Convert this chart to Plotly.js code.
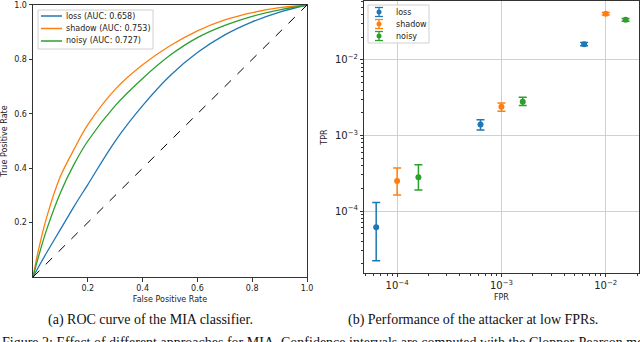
<!DOCTYPE html>
<html>
<head>
<meta charset="utf-8">
<script src="https://cdn.plot.ly/plotly-3.0.1.min.js"></script>
<style>
  html, body { margin: 0; padding: 0; background: #fff; }
  #chart { width: 640px; height: 342px; }
</style>
</head>
<body>
<div id="chart"></div>
<script>
// ROC curves
const fprRoc = [0, 0.02, 0.05, 0.1, 0.15, 0.2, 0.3, 0.4, 0.5, 0.6, 0.7, 0.8, 0.9, 1];
const tprLossRoc = [0, 0.037, 0.09, 0.175, 0.26, 0.34, 0.5, 0.63, 0.74, 0.825, 0.89, 0.938, 0.974, 1];
const tprShadowRoc = [0, 0.1, 0.22, 0.37, 0.47, 0.56, 0.69, 0.78, 0.85, 0.905, 0.945, 0.972, 0.99, 1];
const tprNoisyRoc = [0, 0.075, 0.175, 0.31, 0.415, 0.5, 0.63, 0.73, 0.815, 0.88, 0.925, 0.958, 0.982, 1];
const chanceLine = [0, 1];
const rocLabels = ['loss (AUC: 0.658)', 'shadow (AUC: 0.753)', 'noisy (AUC: 0.727)'];

// low-FPR operating points with CI bounds (right panel)
const fprLoss = [6.3e-5, 6.3e-4, 6.2e-3];
const tprLoss = [6.1e-5, 1.4e-3, 1.62e-2];
const tprLossHi = [1.3e-4, 1.62e-3, 1.7e-2];
const tprLossLo = [2.2e-5, 1.18e-3, 1.54e-2];

const fprShadow = [1e-4, 1e-3, 1e-2];
const tprShadow = [2.5e-4, 2.4e-3, 4.1e-2];
const tprShadowHi = [3.7e-4, 2.7e-3, 4.25e-2];
const tprShadowLo = [1.63e-4, 2.1e-3, 3.95e-2];

const fprNoisy = [1.6e-4, 1.6e-3, 1.55e-2];
const tprNoisy = [2.8e-4, 2.8e-3, 3.4e-2];
const tprNoisyHi = [4.1e-4, 3.2e-3, 3.55e-2];
const tprNoisyLo = [1.9e-4, 2.5e-3, 3.25e-2];
const attackLabels = ['loss', 'shadow', 'noisy'];

const colors = ['#1f77b4', '#ff7f0e', '#2ca02c'];
const font = {family: 'DejaVu Sans', size: 8, color: '#222'};
const serif = {family: 'Liberation Serif', size: 14, color: '#111'};

function errBar(mid, hi, lo, color) {
    return {
        type: 'data', symmetric: false,
        array: hi.map((h, i) => h - mid[i]),
        arrayminus: lo.map((l, i) => mid[i] - l),
        color: color, thickness: 1.5, width: 4
    };
}

const rocY = [tprLossRoc, tprShadowRoc, tprNoisyRoc];
const ptX = [fprLoss, fprShadow, fprNoisy];
const ptY = [tprLoss, tprShadow, tprNoisy];
const ptHi = [tprLossHi, tprShadowHi, tprNoisyHi];
const ptLo = [tprLossLo, tprShadowLo, tprNoisyLo];

const traces = [];
rocY.forEach((ys, i) => traces.push({
    x: fprRoc, y: ys, mode: 'lines', name: rocLabels[i], showlegend: false,
    line: {color: colors[i], width: 1.3, shape: 'spline', smoothing: 1}
}));
traces.push({x: chanceLine, y: chanceLine, mode: 'lines', showlegend: false,
             line: {color: '#000', width: 1, dash: 'dash'}});
ptX.forEach((xs, i) => traces.push({
    x: xs, y: ptY[i], xaxis: 'x2', yaxis: 'y2', mode: 'markers', name: attackLabels[i], showlegend: false,
    marker: {color: colors[i], size: 6}, error_y: errBar(ptY[i], ptHi[i], ptLo[i], colors[i])
}));

// pixel -> paper helpers for the hand-placed legends
const px = v => v / 640;
const py = v => 1 - v / 342;

const shapes = [];
const annotations = [];

// left legend
shapes.push({type: 'rect', xref: 'paper', yref: 'paper', x0: px(38), x1: px(153), y0: py(10), y1: py(49),
             line: {color: '#d0d0d0', width: 1}, fillcolor: 'rgba(255,255,255,0.8)'});
rocLabels.forEach((lab, i) => {
    const yy = 16 + i * 12.5;
    shapes.push({type: 'line', xref: 'paper', yref: 'paper', x0: px(41), x1: px(62), y0: py(yy), y1: py(yy),
                 line: {color: colors[i], width: 1.5}});
    annotations.push({text: lab, xref: 'paper', yref: 'paper', x: px(64), y: py(yy), xanchor: 'left',
                      yanchor: 'middle', showarrow: false, font: font});
});

// right legend
shapes.push({type: 'rect', xref: 'paper', yref: 'paper', x0: px(368), x1: px(429), y0: py(5), y1: py(43),
             line: {color: '#d0d0d0', width: 1}, fillcolor: 'rgba(255,255,255,0.8)'});
attackLabels.forEach((lab, i) => {
    const yy = 12 + i * 12;
    shapes.push({type: 'line', xref: 'paper', yref: 'paper', x0: px(379), x1: px(379), y0: py(yy - 4.5), y1: py(yy + 4.5),
                 line: {color: colors[i], width: 1.3}});
    shapes.push({type: 'line', xref: 'paper', yref: 'paper', x0: px(375), x1: px(383), y0: py(yy - 4.5), y1: py(yy - 4.5),
                 line: {color: colors[i], width: 1.3}});
    shapes.push({type: 'line', xref: 'paper', yref: 'paper', x0: px(375), x1: px(383), y0: py(yy + 4.5), y1: py(yy + 4.5),
                 line: {color: colors[i], width: 1.3}});
    shapes.push({type: 'circle', xref: 'paper', yref: 'paper', x0: px(376.5), x1: px(381.5), y0: py(yy - 2.5), y1: py(yy + 2.5),
                 line: {color: colors[i], width: 0}, fillcolor: colors[i]});
    annotations.push({text: lab, xref: 'paper', yref: 'paper', x: px(394), y: py(yy), xanchor: 'left',
                      yanchor: 'middle', showarrow: false, font: font});
});

// captions
annotations.push({text: '(a) ROC curve of the MIA classifier.', xref: 'paper', yref: 'paper',
                  x: px(150), y: py(320), xanchor: 'center', yanchor: 'middle', showarrow: false, font: serif});
annotations.push({text: '(b) Performance of the attacker at low FPRs.', xref: 'paper', yref: 'paper',
                  x: px(473), y: py(320), xanchor: 'center', yanchor: 'middle', showarrow: false, font: serif});
annotations.push({text: 'Figure 2: Effect of different approaches for MIA. Confidence intervals are computed with the Clopper-Pearson method.',
                  xref: 'paper', yref: 'paper', x: 0, y: py(342), xanchor: 'left', yanchor: 'middle',
                  showarrow: false, font: serif});

const axisBase = {
    showline: true, mirror: true, linecolor: '#333', linewidth: 1,
    ticks: 'outside', ticklen: 3.5, tickcolor: '#333', tickfont: font,
    zeroline: false
};

const layout = {
    width: 640, height: 342,
    margin: {l: 0, r: 0, t: 0, b: 0},
    paper_bgcolor: '#fff', plot_bgcolor: '#fff',
    font: font,
    showlegend: false,
    xaxis: Object.assign({}, axisBase, {
        domain: [0.0516, 0.4797], range: [0, 1], tickvals: [0.2, 0.4, 0.6, 0.8, 1.0],
        ticktext: ['0.2', '0.4', '0.6', '0.8', '1.0'], showgrid: false, anchor: 'y',
        title: {text: 'False Positive Rate', font: font, standoff: 4}
    }),
    yaxis: Object.assign({}, axisBase, {
        domain: [0.190, 0.9854], range: [0, 1], tickvals: [0.2, 0.4, 0.6, 0.8, 1.0],
        ticktext: ['0.2', '0.4', '0.6', '0.8', '1.0'], showgrid: false, anchor: 'x',
        title: {text: 'True Positive Rate', font: font, standoff: 6}
    }),
    xaxis2: Object.assign({}, axisBase, {
        type: 'log', domain: [0.569, 0.998], range: [-4.316, -1.684], dtick: 1,
        exponentformat: 'power', showgrid: true, gridcolor: '#d0d0d0', anchor: 'y2',
        minor: {ticks: 'outside', ticklen: 2, tickcolor: '#333', showgrid: false},
        title: {text: 'FPR', font: font, standoff: 4}
    }),
    yaxis2: Object.assign({}, axisBase, {
        type: 'log', domain: [0.2018, 0.997], range: [-4.82, -1.22], dtick: 1,
        exponentformat: 'power', showgrid: true, gridcolor: '#d0d0d0', anchor: 'x2',
        minor: {ticks: 'outside', ticklen: 2, tickcolor: '#333', showgrid: false},
        title: {text: 'TPR', font: font, standoff: 6}
    }),
    shapes: shapes,
    annotations: annotations
};

Plotly.newPlot('chart', traces, layout, {displayModeBar: false, staticPlot: true});
</script>
</body>
</html>
